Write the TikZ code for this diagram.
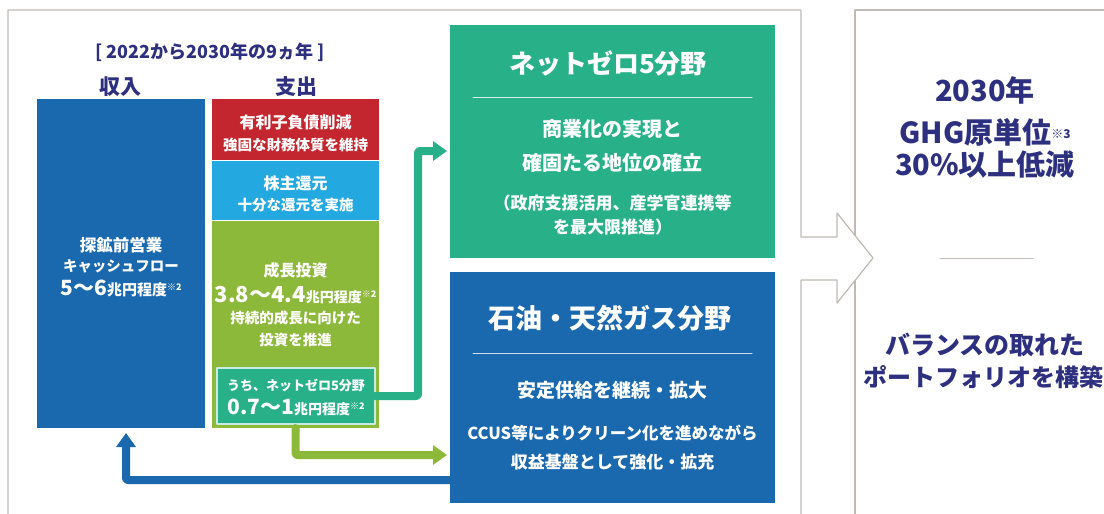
\documentclass[tikz,border=0pt]{standalone}
\usepackage{fontspec}
\setmainfont{Noto Sans CJK JP}
\usepackage{tikz}
\usetikzlibrary{arrows.meta}
\definecolor{navy}{RGB}{45,48,126}
\definecolor{incblue}{RGB}{26,104,174}
\definecolor{debtred}{RGB}{195,38,46}
\definecolor{retcyan}{RGB}{35,168,224}
\definecolor{grolive}{RGB}{141,185,59}
\definecolor{nzteal}{RGB}{40,177,137}
\definecolor{framegray}{RGB}{192,186,181}
\newcommand{\fsz}[1]{\fontsize{#1}{#1}\selectfont}
\newcommand{\kome}[2][9]{{\fsz{#1}\raisebox{5pt}{※#2}}}

\tikzset{
  box/.style={inner sep=0pt,outer sep=0pt,draw=none},
  wtxt/.style={text=white,font=\bfseries,inner sep=0pt,align=center},
  ntxt/.style={text=navy,font=\bfseries,inner sep=0pt,align=center},
  flow/.style={line width=8pt,->,rounded corners=2pt},
  frame/.style={draw=framegray,line width=1.2pt}
}

\begin{document}
\begin{tikzpicture}[x=1pt,y=-1pt,line cap=round,line join=round,>={Triangle[width=19pt,length=14pt]}]
        \useasboundingbox (0,0) rectangle (1104,514);
        % frames and the big hollow arrow
        \draw[frame] (855,514) -- (855,10) -- (1104,10);
        \fill[white] (801,237) -- (837,237) -- (837,213) -- (873,258) -- (837,303) -- (837,280) -- (801,280) -- cycle;
        \draw[frame] (8,514) -- (8,10) -- (801,10) -- (801,237) -- (837,237) -- (837,213) -- (873,258) -- (837,303) -- (837,280) -- (801,280) -- (801,514);
        % headings
        \node[ntxt] (span) at (210,52) {\fsz{18}[ 2022から2030年の9ヵ年 ]};
        \node[ntxt] (inhd) at (120,87) {\fsz{21}収入};
        \node[ntxt] (outhd) at (296,87) {\fsz{21}支出};
        % boxes
        \node[box,fill=incblue,minimum width=168pt,minimum height=329pt] (inc) at (121,263.5) {};
        \node[box,fill=debtred,minimum width=167pt,minimum height=60.5pt] (debt) at (295.5,129.25) {};
        \node[box,fill=retcyan,minimum width=167pt,minimum height=58.5pt] (ret) at (295.5,190.25) {};
        \node[box,fill=grolive,minimum width=167pt,minimum height=207pt] (gro) at (295.5,324.5) {};
        \node[box,fill=nzteal,draw=white!75!nzteal,line width=1.2pt,minimum width=158pt,minimum height=56pt] (ntz) at (296,396) {};
        \node[box,fill=nzteal,minimum width=325pt,minimum height=233pt] (nz) at (612.5,141.5) {};
        \node[box,fill=incblue,minimum width=325pt,minimum height=231pt] (oil) at (612.5,387.5) {};
        % texts
        \node[wtxt] (inc1) at (121,245) {\fsz{16.5}探鉱前営業};
        \node[wtxt] (inc2) at (121,266) {\fsz{14.5}キャッシュフロー};
        \node[wtxt] (inc3) at (121,288) {{\fsz{21}5〜6}{\fsz{15}兆円程度}\kome{2}};
        \node[wtxt] (debt1) at (295.5,122) {\fsz{16}有利子負債削減};
        \node[wtxt] (debt2) at (295.5,145) {\fsz{14.5}強固な財務体質を維持};
        \node[wtxt] (ret1) at (295.5,183) {\fsz{16}株主還元};
        \node[wtxt] (ret2) at (295.5,205) {\fsz{14.5}十分な還元を実施};
        \node[wtxt] (gro1) at (295.5,270) {\fsz{16}成長投資};
        \node[wtxt] (gro2) at (295.5,295) {{\fsz{22}3.8〜4.4}{\fsz{14}兆円程度}\kome{2}};
        \node[wtxt] (gro3) at (295.5,318) {\fsz{14.5}持続的成長に向けた};
        \node[wtxt] (gro4) at (295.5,340) {\fsz{14.5}投資を推進};
        \node[wtxt] (ntz1) at (296,385) {\fsz{13}うち、ネットゼロ5分野};
        \node[wtxt] (ntz2) at (296,407) {{\fsz{21}0.7〜1}{\fsz{14}兆円程度}\kome{2}};
        \node[wtxt] (nz1) at (608,63) {\fsz{26}ネットゼロ5分野};
        \draw[white!80!nzteal,line width=1pt] (473,97) -- (752,97);
        \node[wtxt] (nz2) at (612.5,129) {\fsz{20}商業化の実現と};
        \node[wtxt] (nz3) at (612.5,163) {\fsz{20}確固たる地位の確立};
        \node[wtxt] (nz4) at (612.5,203) {\fsz{17}（政府支援活用、産学官連携等};
        \node[wtxt] (nz5) at (612.5,227) {\fsz{17}を最大限推進）};
        \node[wtxt] (oil1) at (610,318) {\fsz{27}石油・天然ガス分野};
        \draw[white!80!incblue,line width=1pt] (473,353) -- (752,353);
        \node[wtxt] (oil2) at (612.5,390) {\fsz{19}安定供給を継続・拡大};
        \node[wtxt] (oil3) at (612.5,433) {\fsz{16.5}CCUS等によりクリーン化を進めながら};
        \node[wtxt] (oil4) at (612.5,462) {\fsz{17}収益基盤として強化・拡充};
        % goals
        \node[ntxt] (goal1) at (985,90) {\fsz{29}2030年};
        \node[ntxt] (goal2) at (985,132) {\fsz{29}GHG原単位\kome[12]{3}};
        \node[ntxt] (goal3) at (985,165) {\fsz{29}30\%以上低減};
        \draw[framegray,line width=1pt] (940,258) -- (1033,258);
        \node[ntxt] (goal4) at (985,345) {\fsz{25}バランスの取れた};
        \node[ntxt] (goal5) at (983,377) {\fsz{24}ポートフォリオを構築};
        % flows
        \draw[flow,nzteal,shorten >=3pt] (ntz.east) -| (418,151) -- (nz.west |- 0,151);
        \draw[flow,grolive,shorten >=3pt] (gro.south) |- (oil.west |- 0,455);
        \draw[flow,incblue,shorten >=5pt] (oil.west |- 0,480) -| ([xshift=5pt]inc.south);
      \end{tikzpicture}
\end{document}
